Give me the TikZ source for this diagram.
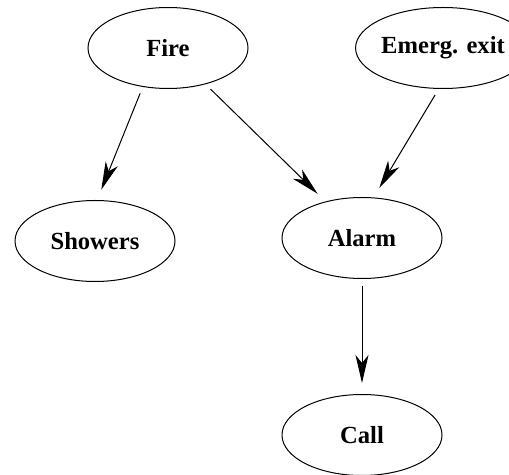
\documentclass[tikz,border=0pt]{standalone}
\usepackage{fontspec}
\setmainfont{Liberation Serif}
\usetikzlibrary{shapes.geometric}
\usetikzlibrary{arrows.meta}

\tikzset{
  event/.style={draw, ellipse, line width=0.5pt, inner sep=0pt,
    minimum width=80pt, minimum height=40.5pt,
    font=\fontsize{12.3}{14}\selectfont\bfseries},
  link/.style={line width=0.5pt, -{Stealth[length=14pt,width=6.5pt,inset=4pt]},
    shorten <=3.5pt, shorten >=5.5pt}
}

\begin{document}
\begin{tikzpicture}[x=0.5pt,y=0.5pt,yscale=-1,xscale=1]
\useasboundingbox (0,0) rectangle (509,475);

% Nodes
\node [event] (fire) at (168,48) {Fire};
\node [event] (exit) at (443,48) {Emerg. exit};
\node [event] (showers) at (95,241) {Showers};
\node [event] (alarm) at (362,238) {Alarm};
\node [event] (call) at (362,435) {Call};

% Edges
\draw [link] (fire.237) -- (showers.87);
\draw [link] (fire.-44) -- (alarm.135);
\draw [link] (exit.264) -- (alarm.74);
\draw [link] (alarm.south) -- (call.north);

\end{tikzpicture}
\end{document}
